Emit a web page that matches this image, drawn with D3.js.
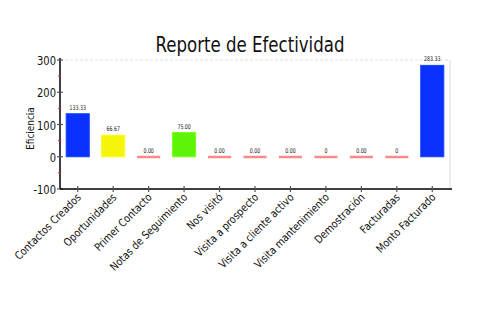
<!DOCTYPE html>
<html>
<head>
<meta charset="utf-8">
<script src="https://cdn.jsdelivr.net/npm/d3@7"></script>
<style>
  html, body { margin: 0; padding: 0; background: #fff; }
  svg { display: block; font-family: "DejaVu Sans Condensed", "DejaVu Sans", sans-serif; font-stretch: condensed; }
</style>
</head>
<body>
<svg id="chart" width="500" height="330"></svg>
<script>
// Etapas del proceso comercial
const categories = [
  "Contactos Creados", "Oportunidades", "Primer Contacto", "Notas de Seguimiento",
  "Nos visitó", "Visita a prospecto", "Visita a cliente activo", "Visita mantenimiento",
  "Demostración", "Facturadas", "Monto Facturado"
];
// Eficiencia por etapa
const values = [133.33, 66.67, 0, 75, 0, 0, 0, 0, 0, 0, 283.33];
// Etiquetas de valor sobre cada barra
const valueLabels = ["133.33", "66.67", "0.00", "75.00", "0.00", "0.00", "0.00", "0", "0.00", "0", "283.33"];
const yTicks = [-100, 0, 100, 200, 300];
const yMinorTicks = [-50, 50, 150, 250];

const palette = ["#0a30ff", "#f5f50a", "#f88a8a", "#5cf50a", "#f88a8a", "#f88a8a",
                 "#f88a8a", "#f88a8a", "#f88a8a", "#f88a8a", "#0a30ff"];

const svg = d3.select("#chart");
const m = { left: 60, right: 50, top: 60, bottom: 141 };
const W = 500, H = 330;

const x = d3.scaleBand().domain(categories).range([m.left, W - m.right]).paddingInner(0.35).paddingOuter(0.175);
const y = d3.scaleLinear().domain([-100, 300]).range([H - m.bottom, m.top]);

// Título
svg.append("text")
  .attr("x", 250).attr("y", 52)
  .attr("text-anchor", "middle")
  .attr("font-size", 22)
  .attr("textLength", 189)
  .attr("lengthAdjust", "spacingAndGlyphs")
  .attr("fill", "#111")
  .text("Reporte de Efectividad");

// Borde superior y derecho
svg.append("line")
  .attr("x1", m.left).attr("x2", W - m.right)
  .attr("y1", y(300)).attr("y2", y(300))
  .attr("stroke", "#ddd").attr("stroke-dasharray", "3,2");
svg.append("line")
  .attr("x1", W - m.right).attr("x2", W - m.right)
  .attr("y1", y(300)).attr("y2", y(-100))
  .attr("stroke", "#e6e6e6").attr("stroke-width", 1.5);

// Barras
const bars = svg.append("g");
categories.forEach((c, i) => {
  const v = values[i];
  const cx = x(c) + x.bandwidth() / 2;
  if (v === 0) {
    bars.append("rect")
      .attr("x", x(c)).attr("width", x.bandwidth())
      .attr("y", y(0) - 1).attr("height", 2.5)
      .attr("fill", palette[i]);
  } else {
    bars.append("rect")
      .attr("x", x(c)).attr("width", x.bandwidth())
      .attr("y", y(v)).attr("height", y(0) - y(v))
      .attr("fill", palette[i])
      .attr("stroke", d3.color(palette[i]).brighter(0.8))
      .attr("stroke-width", 1);
  }
  svg.append("text")
    .attr("transform", `translate(${cx},${y(v) - 4}) scale(0.8,1)`)
    .attr("text-anchor", "middle")
    .attr("font-size", 6.5)
    .attr("fill", "#222")
    .text(valueLabels[i]);
});

// Eje Y
const yAxis = svg.append("g").attr("transform", `translate(${m.left},0)`);
yAxis.append("line")
  .attr("x1", 0).attr("x2", 0)
  .attr("y1", y(300) - 2).attr("y2", y(-100))
  .attr("stroke", "#000").attr("stroke-width", 1.5);
yAxis.selectAll(".maj").data(yTicks).join("line")
  .attr("x1", -3).attr("x2", 3)
  .attr("y1", d => y(d)).attr("y2", d => y(d))
  .attr("stroke", "#555").attr("stroke-width", 1.2);
yAxis.selectAll(".min").data(yMinorTicks).join("line")
  .attr("x1", -2).attr("x2", 1)
  .attr("y1", d => y(d)).attr("y2", d => y(d))
  .attr("stroke", "#e22").attr("stroke-width", 1);
yAxis.selectAll("text").data(yTicks).join("text")
  .attr("transform", d => `translate(-4,${y(d) + 5}) scale(0.85,1)`)
  .attr("text-anchor", "end")
  .attr("font-size", 13)
  .attr("fill", "#111")
  .text(d => d);

// Eje X
const xAxis = svg.append("g");
xAxis.append("line")
  .attr("x1", m.left).attr("x2", W - m.right + 2)
  .attr("y1", y(-100)).attr("y2", y(-100))
  .attr("stroke", "#000").attr("stroke-width", 1.5);
xAxis.selectAll(".tk").data(categories).join("line")
  .attr("x1", d => x(d) + x.bandwidth() / 2).attr("x2", d => x(d) + x.bandwidth() / 2)
  .attr("y1", y(-100) - 3).attr("y2", y(-100) + 3)
  .attr("stroke", "#555").attr("stroke-width", 1.2);
xAxis.selectAll("text").data(categories).join("text")
  .attr("transform", d => `translate(${x(d) + x.bandwidth() / 2 + 4},${y(-100) + 9}) rotate(-45) scale(0.95,1)`)
  .attr("text-anchor", "end")
  .attr("font-size", 11)
  .attr("fill", "#111")
  .text(d => d);

// Título del eje Y
svg.append("text")
  .attr("transform", `translate(34,${(y(300) + y(-100)) / 2 + 4}) rotate(-90) scale(0.9,1)`)
  .attr("text-anchor", "middle")
  .attr("font-size", 11)
  .attr("fill", "#111")
  .text("Eficiencia");
</script>
</body>
</html>
